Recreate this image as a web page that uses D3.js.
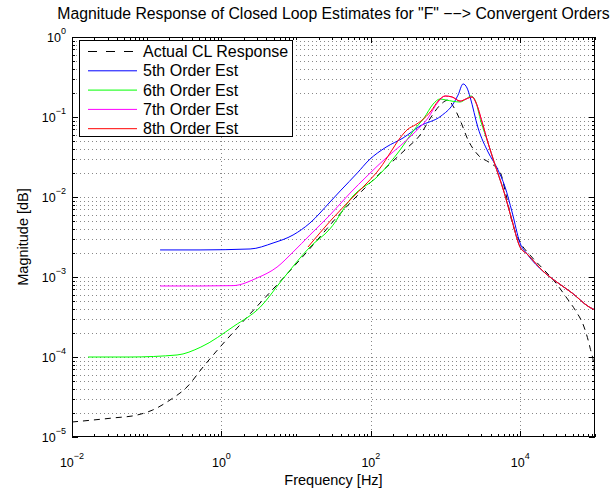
<!DOCTYPE html>
<html>
<head>
<meta charset="utf-8">
<script src="https://cdn.jsdelivr.net/npm/d3@7"></script>
<style>
  html, body { margin: 0; padding: 0; background: #fff; }
  text { font-family: "Liberation Sans", Arial, Helvetica, sans-serif; fill: #000; }
</style>
</head>
<body>
<svg id="chart" width="613" height="493"></svg>
<script>
// ---------------- data ----------------
const titleText = 'Magnitude Response of Closed Loop Estimates for "F" \u2212\u2212> Convergent Orders';
const xLabelText = "Frequency [Hz]";
const yLabelText = "Magnitude [dB]";

const seriesNames = ["Actual CL Response", "5th Order Est", "6th Order Est", "7th Order Est", "8th Order Est"];
const seriesColors = ["#000000", "#0000ff", "#00ff00", "#ff00ff", "#ff0000"];

const xTickExps = [-2, 0, 2, 4];
const yTickExps = [-5, -4, -3, -2, -1, 0];

const freqActual = [0.01, 0.0191, 0.0354, 0.0741, 0.121, 0.205, 0.346, 0.568, 0.957, 1.62, 3.29, 7.55, 16.8, 35.3, 83.6, 192, 305, 456, 640, 871, 1080, 1259, 1563, 2000, 2723, 3945, 5370, 6457, 7762, 9930, 13500, 20200, 29200, 41000, 54200, 71400, 85900, 97300, 100000];
const magActual  = [1.54e-5, 1.63e-5, 1.73e-5, 1.88e-5, 2.18e-5, 2.90e-5, 4.22e-5, 7.50e-5, 1.33e-4, 2.30e-4, 4.73e-4, 1.09e-3, 2.51e-3, 5.62e-3, 0.0130, 0.0274, 0.0410, 0.0596, 0.100, 0.145, 0.163, 0.137, 0.0917, 0.0516, 0.0335, 0.0266, 0.0205, 0.0106, 4.87e-3, 2.74e-3, 1.88e-3, 1.26e-3, 8.66e-4, 5.62e-4, 3.87e-4, 2.37e-4, 1.30e-4, 7.29e-5, 5.5e-5];

const freq5 = [0.151, 0.517, 2.42, 4.91, 9.09, 15.3, 28.4, 39.9, 66.0, 94.6, 160, 270, 456, 871, 1259, 1469, 1715, 1941, 2128, 2723, 3706, 4890, 6260, 7762, 9930, 12330, 20800, 32100, 49400, 83400, 100000];
const mag5  = [2.18e-3, 2.18e-3, 2.24e-3, 2.66e-3, 3.35e-3, 4.73e-3, 8.66e-3, 0.0122, 0.0200, 0.0290, 0.0420, 0.0547, 0.0772, 0.103, 0.145, 0.188, 0.259, 0.230, 0.178, 0.0729, 0.0365, 0.0230, 0.0133, 6.49e-3, 2.66e-3, 1.94e-3, 1.15e-3, 8.41e-4, 6.31e-4, 4.22e-4, 3.87e-4];

const freq6 = [0.0164, 0.0597, 0.255, 0.530, 1.47, 3.32, 6.47, 15.3, 28.4, 57.7, 121, 246, 378, 515, 681, 844, 1016, 1563, 1880, 2193, 2483, 2985, 3706, 4460, 6070, 7530, 9930, 12330, 20800, 32100, 49400, 83400, 100000];
const mag6  = [1.0e-4, 1.0e-4, 1.06e-4, 1.33e-4, 2.43e-4, 4.22e-4, 9.17e-4, 2.37e-3, 4.00e-3, 0.0103, 0.0178, 0.0387, 0.0688, 0.0972, 0.145, 0.168, 0.163, 0.154, 0.168, 0.183, 0.163, 0.0866, 0.0473, 0.0274, 0.0115, 5.62e-3, 2.37e-3, 1.94e-3, 1.15e-3, 8.41e-4, 6.31e-4, 4.22e-4, 3.87e-4];

const freq7 = [0.151, 0.517, 1.43, 3.00, 5.55, 9.09, 15.3, 28.4, 52.7, 89.0, 165, 246, 391, 583, 794, 986, 1222, 1563, 1880, 2265, 2560, 3083, 3706, 4460, 6070, 7530, 9930, 12330, 20800, 32100, 49400, 83400, 100000];
const mag7  = [7.72e-4, 7.72e-4, 7.80e-4, 9.72e-4, 1.33e-3, 2.05e-3, 3.35e-3, 5.96e-3, 0.0112, 0.0183, 0.0316, 0.0434, 0.0649, 0.0972, 0.154, 0.183, 0.178, 0.158, 0.168, 0.178, 0.150, 0.0866, 0.0473, 0.0274, 0.0115, 5.62e-3, 2.37e-3, 1.94e-3, 1.15e-3, 8.41e-4, 6.31e-4, 4.22e-4, 3.87e-4];

const freq8 = [14.4, 31.2, 52.7, 89.0, 133, 181, 246, 315, 391, 470, 640, 794, 986, 1222, 1563, 1880, 2265, 2560, 3083, 3706, 4460, 6070, 7530, 9930, 12330, 20800, 32100, 49400, 83400, 100000];
const mag8  = [2.37e-3, 5.47e-3, 9.17e-3, 0.0150, 0.0230, 0.0355, 0.0547, 0.0708, 0.0794, 0.0891, 0.119, 0.158, 0.183, 0.178, 0.158, 0.168, 0.178, 0.150, 0.0866, 0.0473, 0.0274, 0.0115, 5.62e-3, 2.37e-3, 1.94e-3, 1.15e-3, 8.41e-4, 6.31e-4, 4.22e-4, 3.87e-4];

// ---------------- layout ----------------
const svg = d3.select("#chart");
const L = 72, R = 595, T = 37, B = 437;

const x = d3.scaleLog().domain([1e-2, 1e5]).range([L, R]);
const y = d3.scaleLog().domain([1e-5, 1]).range([B, T]);

svg.append("rect").attr("x", 0).attr("y", 0).attr("width", 613).attr("height", 493).attr("fill", "#fff");

// grid
const grid = svg.append("g").attr("stroke", "#555").attr("stroke-width", 0.7).attr("stroke-dasharray", "1,3");
const yGridVals = [];
for (let k = -5; k <= -1; k++) for (let j = 1; j <= 9; j++) { const v = j * Math.pow(10, k); if (v > 1e-5 && v < 1) yGridVals.push(v); }
grid.selectAll("line.yg").data(yGridVals).join("line")
  .attr("x1", L).attr("x2", R).attr("y1", d => Math.round(y(d)) + 0.5).attr("y2", d => Math.round(y(d)) + 0.5);
const xGridVals = xTickExps.map(e => Math.pow(10, e)).filter(v => v > 1e-2);
grid.selectAll("line.xg").data(xGridVals).join("line")
  .attr("y1", T).attr("y2", B).attr("x1", d => Math.round(x(d)) + 0.5).attr("x2", d => Math.round(x(d)) + 0.5);

// ticks (inward, all four sides)
const ticks = svg.append("g").attr("stroke", "#000").attr("stroke-width", 1);
const xMinor = [];
for (let k = -2; k <= 4; k++) for (let j = 1; j <= 9; j++) xMinor.push(j * Math.pow(10, k));
xMinor.push(1e5);
xMinor.forEach(v => {
  const isMaj = xTickExps.some(e => Math.abs(Math.log10(v) - e) < 1e-9);
  const len = isMaj ? 6 : 3;
  const px = Math.round(x(v)) + 0.5;
  ticks.append("line").attr("x1", px).attr("x2", px).attr("y1", B).attr("y2", B - len);
  ticks.append("line").attr("x1", px).attr("x2", px).attr("y1", T).attr("y2", T + len);
});
const yMinor = [];
for (let k = -5; k <= -1; k++) for (let j = 1; j <= 9; j++) yMinor.push(j * Math.pow(10, k));
yMinor.push(1);
yMinor.forEach(v => {
  const isMaj = Math.abs(Math.log10(v) - Math.round(Math.log10(v))) < 1e-9;
  const len = isMaj ? 6 : 3;
  const py = Math.round(y(v)) + 0.5;
  ticks.append("line").attr("y1", py).attr("y2", py).attr("x1", L).attr("x2", L + len);
  ticks.append("line").attr("y1", py).attr("y2", py).attr("x1", R).attr("x2", R - len);
});

// data lines
const seriesData = [
  d3.zip(freqActual, magActual),
  d3.zip(freq5, mag5),
  d3.zip(freq6, mag6),
  d3.zip(freq7, mag7),
  d3.zip(freq8, mag8)
];
svg.append("clipPath").attr("id", "clip").append("rect").attr("x", L).attr("y", T).attr("width", R - L).attr("height", B - T);
const line = d3.line().x(d => x(d[0])).y(d => y(d[1])).curve(d3.curveMonotoneX);
const lines = svg.append("g").attr("clip-path", "url(#clip)");
seriesData.forEach((s, i) => {
  lines.append("path").datum(s).attr("d", line)
    .attr("fill", "none").attr("stroke", seriesColors[i]).attr("stroke-width", 1)
    .attr("stroke-dasharray", i === 0 ? "6,5" : null);
});

// frame
svg.append("rect").attr("x", L + 0.5).attr("y", T + 0.5).attr("width", R - L - 1).attr("height", B - T - 1)
  .attr("fill", "none").attr("stroke", "#000").attr("stroke-width", 1);

// tick labels
const xl = svg.append("g");
xTickExps.forEach(e => {
  const t = xl.append("text").attr("x", x(Math.pow(10, e))).attr("y", B + 30).attr("text-anchor", "middle").attr("font-size", 12.5);
  t.append("tspan").text("10");
  t.append("tspan").attr("dy", -8).attr("font-size", 9).text(e < 0 ? "\u2212" + (-e) : String(e));
});
const yl = svg.append("g");
yTickExps.forEach(e => {
  const t = yl.append("text").attr("x", L - 6).attr("y", y(Math.pow(10, e)) + 5).attr("text-anchor", "end").attr("font-size", 12.5);
  t.append("tspan").text("10");
  t.append("tspan").attr("dy", -8).attr("font-size", 9).text(e < 0 ? "\u2212" + (-e) : String(e));
});

// titles
svg.append("text").attr("x", (L + R) / 2).attr("y", 19).attr("text-anchor", "middle").attr("font-size", 15.8).text(titleText);
svg.append("text").attr("x", (L + R) / 2).attr("y", 485).attr("text-anchor", "middle").attr("font-size", 14.5).text(xLabelText);
svg.append("text").attr("transform", `translate(28,${(T + B) / 2}) rotate(-90)`).attr("text-anchor", "middle").attr("font-size", 14.5).text(yLabelText);

// legend
const lg = svg.append("g");
lg.append("rect").attr("x", 79.5).attr("y", 40.5).attr("width", 213).attr("height", 96).attr("fill", "#fff").attr("stroke", "#000").attr("stroke-width", 1);
seriesNames.forEach((n, i) => {
  const cy = 51.5 + i * 19.3;
  lg.append("line").attr("x1", 88).attr("x2", 137).attr("y1", cy).attr("y2", cy)
    .attr("stroke", seriesColors[i]).attr("stroke-width", 1).attr("stroke-dasharray", i === 0 ? "9,9" : null);
  lg.append("text").attr("x", 143).attr("y", cy + 5.5).attr("font-size", 16).text(n);
});
</script>
</body>
</html>
